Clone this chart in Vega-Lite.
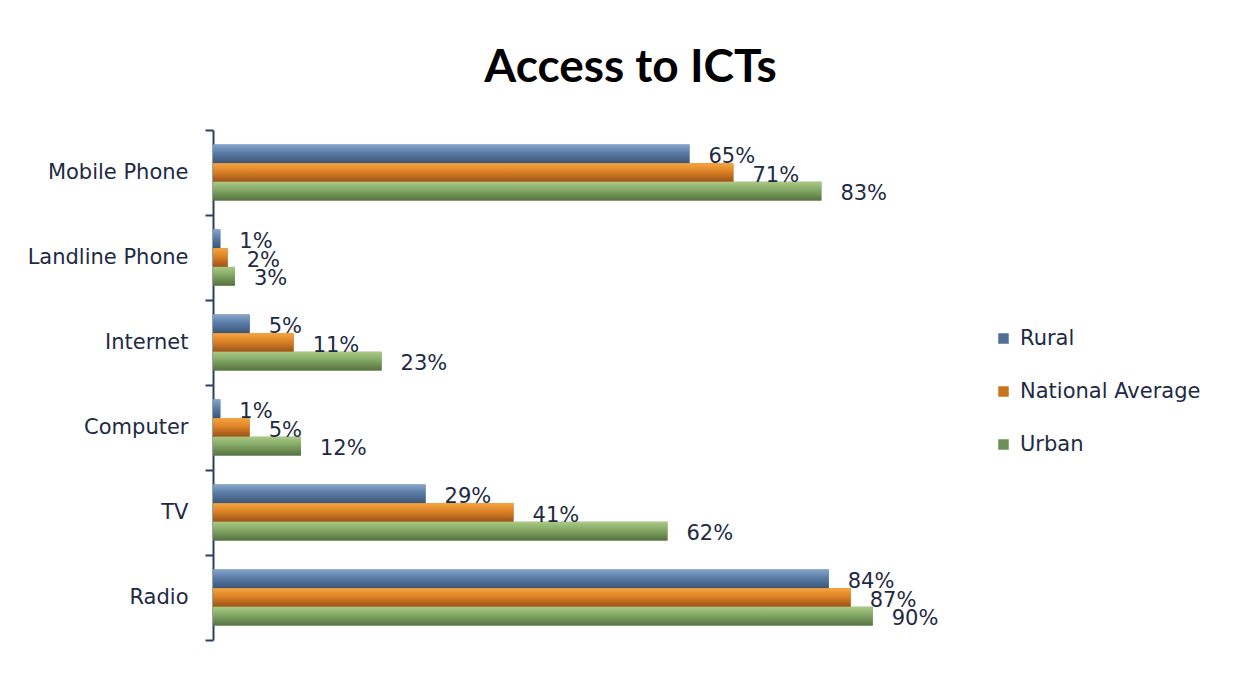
{
  "$schema": "https://vega.github.io/schema/vega-lite/v6.json",
  "width": 733,
  "height": 510,
  "autosize": {"type": "none"},
  "padding": {"left": 213, "top": 130, "right": 310, "bottom": 37},
  "background": "white",
  "config": {"view": {"stroke": null}},
  "title": {"text": "Access to ICTs", "fontSize": 46, "font": "Lato", "fontWeight": "bold", "color": "#000000", "anchor": "middle", "frame": "group", "dx": 51, "offset": 27},
  "data": {"values": [
    {"item": "Mobile Phone", "group": "Rural", "value": 0.65},
    {"item": "Mobile Phone", "group": "National Average", "value": 0.71},
    {"item": "Mobile Phone", "group": "Urban", "value": 0.83},
    {"item": "Landline Phone", "group": "Rural", "value": 0.01},
    {"item": "Landline Phone", "group": "National Average", "value": 0.02},
    {"item": "Landline Phone", "group": "Urban", "value": 0.03},
    {"item": "Internet", "group": "Rural", "value": 0.05},
    {"item": "Internet", "group": "National Average", "value": 0.11},
    {"item": "Internet", "group": "Urban", "value": 0.23},
    {"item": "Computer", "group": "Rural", "value": 0.01},
    {"item": "Computer", "group": "National Average", "value": 0.05},
    {"item": "Computer", "group": "Urban", "value": 0.12},
    {"item": "TV", "group": "Rural", "value": 0.29},
    {"item": "TV", "group": "National Average", "value": 0.41},
    {"item": "TV", "group": "Urban", "value": 0.62},
    {"item": "Radio", "group": "Rural", "value": 0.84},
    {"item": "Radio", "group": "National Average", "value": 0.87},
    {"item": "Radio", "group": "Urban", "value": 0.90}
  ]},
  "encoding": {
    "y": {"field": "item", "type": "nominal", "sort": ["Mobile Phone", "Landline Phone", "Internet", "Computer", "TV", "Radio"],
      "scale": {"paddingInner": 0, "paddingOuter": 0},
      "axis": {"title": null, "domainColor": "#2d3f60", "domainWidth": 2, "tickColor": "#2d3f60", "tickWidth": 2, "tickSize": 8, "tickBand": "extent", "labelFont": "DejaVu Sans", "labelFontSize": 21, "labelColor": "#1e2a44", "labelPadding": 17, "grid": false}},
    "yOffset": {"field": "group", "type": "nominal", "sort": ["Rural", "National Average", "Urban"], "scale": {"paddingInner": 0, "paddingOuter": 0.77}},
    "x": {"field": "value", "type": "quantitative", "scale": {"domain": [0, 1]}, "axis": null}
  },
  "layer": [
    {
      "mark": {"type": "bar"},
      "encoding": {"color": {"field": "group", "type": "nominal",
        "scale": {"domain": ["Rural", "National Average", "Urban"], "range": ["#4f6f96", "#c97520", "#6b8f55"]},
        "legend": {"title": null, "orient": "none", "legendX": 780, "legendY": 198, "symbolType": "square", "symbolSize": 110, "symbolStrokeWidth": 0, "labelFont": "DejaVu Sans", "labelFontSize": 21, "labelColor": "#1e2a44", "labelOffset": 6, "labelLimit": 400, "rowPadding": 31}}}
    },
    {
      "transform": [{"filter": "datum.group === 'Rural'"}],
      "mark": {"type": "bar", "fill": {"gradient": "linear", "x1": 0, "y1": 0, "x2": 0, "y2": 1, "stops": [{"offset": 0, "color": "#86a6cc"}, {"offset": 0.45, "color": "#5a7ca6"}, {"offset": 1, "color": "#3c5576"}]}}
    },
    {
      "transform": [{"filter": "datum.group === 'National Average'"}],
      "mark": {"type": "bar", "fill": {"gradient": "linear", "x1": 0, "y1": 0, "x2": 0, "y2": 1, "stops": [{"offset": 0, "color": "#f6a640"}, {"offset": 0.45, "color": "#dc8226"}, {"offset": 1, "color": "#9a5218"}]}}
    },
    {
      "transform": [{"filter": "datum.group === 'Urban'"}],
      "mark": {"type": "bar", "fill": {"gradient": "linear", "x1": 0, "y1": 0, "x2": 0, "y2": 1, "stops": [{"offset": 0, "color": "#aac985"}, {"offset": 0.45, "color": "#82a764"}, {"offset": 1, "color": "#557140"}]}}
    },
    {
      "mark": {"type": "text", "align": "left", "baseline": "middle", "dx": 19, "dy": 3, "font": "DejaVu Sans", "fontSize": 21, "color": "#1e2a44"},
      "encoding": {"text": {"field": "value", "type": "quantitative", "format": ".0%"}}
    }
  ]
}
